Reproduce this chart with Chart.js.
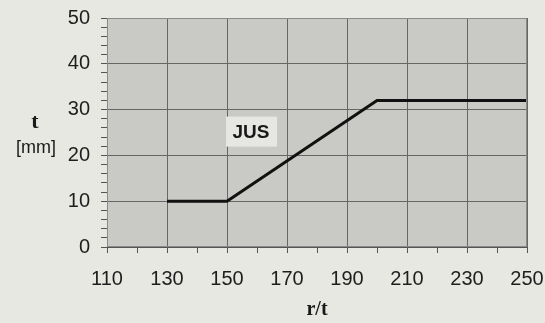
<!DOCTYPE html>
<html>
<head>
<meta charset="utf-8">
<script src="https://cdn.jsdelivr.net/npm/chart.js@4.4.0/dist/chart.umd.min.js"></script>
<style>
  html, body { margin: 0; padding: 0; background: #e8e8e3; }
  #wrap { width: 545px; height: 323px; position: relative; }
</style>
</head>
<body>
<div id="wrap"><canvas id="chart" width="545" height="323"></canvas></div>
<script>
// Data
const rt_values = [130, 150, 200, 250];
const t_values = [10, 10, 32, 32];
const curve_label = 'JUS';

const ctx = document.getElementById('chart').getContext('2d');

// plot area background + the JUS label + the horizontal y title
const decorations = {
    id: 'decorations',
    beforeDraw(chart) {
        const a = chart.chartArea;
        const c = chart.ctx;
        c.save();
        c.fillStyle = '#c9c9c6';
        c.fillRect(a.left, a.top, a.width, a.height);
        c.restore();
    },
    afterDraw(chart) {
        const c = chart.ctx;
        const a = chart.chartArea;
        const xs = chart.scales.x;
        const ys = chart.scales.y;
        c.save();
        c.strokeStyle = '#8a8a88';
        c.lineWidth = 1;
        c.strokeRect(a.left + 0.5, a.top + 0.5, a.width - 1, a.height - 1);

        // JUS label box
        const cx = xs.getPixelForValue(158);
        const cy = ys.getPixelForValue(25.2);
        c.fillStyle = '#e6e6e2';
        c.fillRect(cx - 25, cy - 15, 51, 30);
        c.fillStyle = '#1a1a1a';
        c.font = 'bold 19px "Liberation Sans", Arial, sans-serif';
        c.textAlign = 'center';
        c.textBaseline = 'middle';
        c.fillText(curve_label, cx, cy + 1);

        // y axis title, horizontal
        c.font = 'bold 22px "Liberation Serif", "Times New Roman", serif';
        c.fillText('t', 35, 122);
        c.font = '18px "Liberation Sans", Arial, sans-serif';
        c.fillText('[mm]', 36, 148);
        c.restore();
    }
};

new Chart(ctx, {
    type: 'line',
    data: {
        datasets: [{
            data: rt_values.map((v, i) => ({ x: v, y: t_values[i] })),
            borderColor: '#111111',
            borderWidth: 3,
            pointRadius: 0,
            fill: false,
            tension: 0
        }]
    },
    options: {
        responsive: false,
        animation: false,
        layout: { padding: { top: 18, right: 18, left: 0, bottom: 0 } },
        plugins: { legend: { display: false }, tooltip: { enabled: false } },
        scales: {
            x: {
                type: 'linear',
                min: 110,
                max: 250,
                ticks: {
                    stepSize: 10,
                    autoSkip: false,
                    maxRotation: 0,
                    padding: 14,
                    color: '#1e1e1e',
                    font: { family: '"Liberation Sans", Arial, sans-serif', size: 20 },
                    callback: v => ((v - 110) % 20 === 0 ? String(v) : '')
                },
                grid: {
                    color: c => ((c.tick && (c.tick.value - 110) % 20 === 0 && c.tick.value !== 110) ? '#666664' : 'transparent'),
                    tickColor: '#555',
                    tickLength: 6,
                    lineWidth: 1
                },
                border: { color: '#555', width: 1 },
                title: {
                    display: true,
                    text: 'r/t',
                    color: '#1a1a1a',
                    font: { family: '"Liberation Serif", "Times New Roman", serif', size: 20, weight: 'bold' },
                    padding: { top: 2, bottom: 1 }
                },
                afterFit: s => { s.height = 76; s.paddingLeft = 0; s.paddingRight = 0; }
            },
            y: {
                min: 0,
                max: 50,
                ticks: {
                    stepSize: 2,
                    autoSkip: false,
                    padding: 11,
                    color: '#1e1e1e',
                    font: { family: '"Liberation Sans", Arial, sans-serif', size: 20 },
                    callback: v => (v % 10 === 0 ? String(v) : '')
                },
                grid: {
                    color: c => ((c.tick && c.tick.value % 10 === 0 && c.tick.value !== 0) ? '#666664' : 'transparent'),
                    tickColor: '#555',
                    tickLength: 6,
                    lineWidth: 1
                },
                border: { color: '#555', width: 1 },
                afterFit: s => { s.width = 107; s.paddingTop = 0; s.paddingBottom = 0; }
            }
        }
    },
    plugins: [decorations]
});
</script>
</body>
</html>
